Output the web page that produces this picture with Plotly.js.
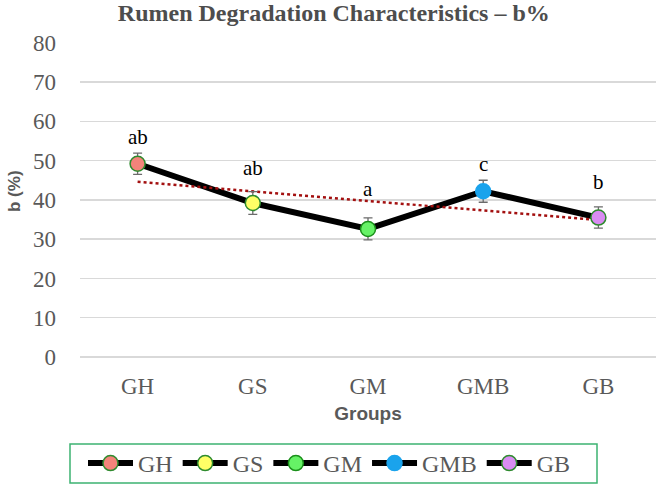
<!DOCTYPE html>
<html>
<head>
<meta charset="utf-8">
<script src="https://cdn.plot.ly/plotly-3.0.1.min.js"></script>
<style>
  html, body { margin: 0; padding: 0; background: #ffffff; }
  #chart { width: 661px; height: 485px; }
</style>
</head>
<body>
<div id="chart"></div>
<script>
// Rumen degradation: potentially degradable fraction b (%) per group
const groups = ["GH", "GS", "GM", "GMB", "GB"];
const bValues = [49.2, 39.2, 32.6, 42.2, 35.5];
const bErrors = [2.7, 2.9, 2.8, 2.8, 2.7];
const sigLetters = ["ab", "ab", "a", "c", "b"];
const yTicks = [0, 10, 20, 30, 40, 50, 60, 70, 80];

// marker styling per group
const fillColors = ["#f4837a", "#ffff66", "#66f266", "#1aa3ec", "#d98cf2"];
const edgeColors = ["#2e8b2e", "#2e8b2e", "#1a8f1a", "#1aa3ec", "#2e8b2e"];

// least-squares linear trend across the groups
const n = bValues.length;
const xs = bValues.map((_, i) => i + 1);
const mx = xs.reduce((a, b) => a + b, 0) / n;
const my = bValues.reduce((a, b) => a + b, 0) / n;
let sxy = 0, sxx = 0;
for (let i = 0; i < n; i++) { sxy += (xs[i] - mx) * (bValues[i] - my); sxx += (xs[i] - mx) ** 2; }
const slope = sxy / sxx;
const trendStart = my + slope * (1 - mx);
const trendEnd = my + slope * (n - mx);

const serif = '"Liberation Serif", "Times New Roman", serif';
const sans = '"Liberation Sans", Arial, sans-serif';

const traces = [];

// connecting line
traces.push({
  x: groups, y: bValues, type: "scatter", mode: "lines",
  line: { color: "#000000", width: 6 },
  showlegend: false, hoverinfo: "skip"
});

// linear trend (dotted)
traces.push({
  x: [groups[0], groups[n - 1]], y: [trendStart, trendEnd],
  type: "scatter", mode: "lines",
  line: { color: "#a31010", width: 2.5, dash: "dot" },
  showlegend: false, hoverinfo: "skip"
});

// one point per group so each gets its own legend entry
groups.forEach((g, i) => {
  traces.push({
    x: [g], y: [bValues[i]], name: g, type: "scatter", mode: "lines+markers",
    line: { color: "#000000", width: 6 },
    marker: { size: 15, color: fillColors[i], line: { color: edgeColors[i], width: 1.5 } },
    error_y: { type: "data", array: [bErrors[i]], visible: true, color: "#6b6b6b", thickness: 1.3, width: 4.5 }
  });
});

// plot area spans 576 x 315 px; paper-unit helpers
const plotW = 576, plotH = 315;

// significance letters, lifted above each point (pixels)
const letterLift = [27, 35, 40, 27, 36];
const annotations = groups.map((g, i) => ({
  x: g, y: bValues[i], xref: "x", yref: "y",
  text: sigLetters[i], showarrow: false,
  yshift: letterLift[i],
  font: { family: serif, size: 21, color: "#000000" }
}));

// vertical y-axis title
annotations.push({
  xref: "paper", yref: "paper",
  x: -66 / plotW, y: 166 / plotH,
  xanchor: "center", yanchor: "middle",
  text: "<b>b (%)</b>", textangle: -90, showarrow: false,
  font: { family: sans, size: 17, color: "#595959" }
});

// legend frame
const shapes = [{
  type: "rect", xref: "paper", yref: "paper",
  x0: -10 / plotW, x1: 517 / plotW,
  y0: -126 / plotH, y1: -87 / plotH,
  line: { color: "#3cb371", width: 1.5 },
  fillcolor: "rgba(0,0,0,0)"
}];

const layout = {
  width: 661, height: 485,
  margin: { l: 80, r: 5, t: 42, b: 128, autoexpand: false },
  paper_bgcolor: "#ffffff", plot_bgcolor: "#ffffff",
  title: {
    text: "<b>Rumen Degradation Characteristics – b%</b>",
    font: { family: serif, size: 24, color: "#4d4d4d" },
    x: 0.505, xanchor: "center", y: 0.975, yanchor: "middle"
  },
  xaxis: {
    type: "category",
    range: [-0.5, 4.5],
    showgrid: false, zeroline: false, showline: false, ticks: "",
    ticklabelstandoff: 13,
    tickfont: { family: serif, size: 23, color: "#595959" },
    title: { text: "<b>Groups</b>", font: { family: sans, size: 19, color: "#595959" }, standoff: 8 }
  },
  yaxis: {
    range: [0, 80.2],
    tickvals: yTicks, ticktext: yTicks.map(String),
    showgrid: true, gridcolor: "#d9d9d9", gridwidth: 1.5,
    zeroline: true, zerolinecolor: "#d9d9d9", zerolinewidth: 1.5,
    showline: false, ticks: "", ticklabelstandoff: 23,
    tickfont: { family: serif, size: 23, color: "#595959" }
  },
  showlegend: true,
  legend: {
    orientation: "h",
    x: 3 / plotW, xanchor: "left",
    y: -106.5 / plotH, yanchor: "middle",
    bgcolor: "rgba(0,0,0,0)",
    borderwidth: 0,
    font: { family: serif, size: 24, color: "#595959" },
    itemwidth: 45,
    traceorder: "normal"
  },
  annotations: annotations,
  shapes: shapes
};

Plotly.newPlot("chart", traces, layout, { displayModeBar: false, staticPlot: true });
</script>
</body>
</html>
